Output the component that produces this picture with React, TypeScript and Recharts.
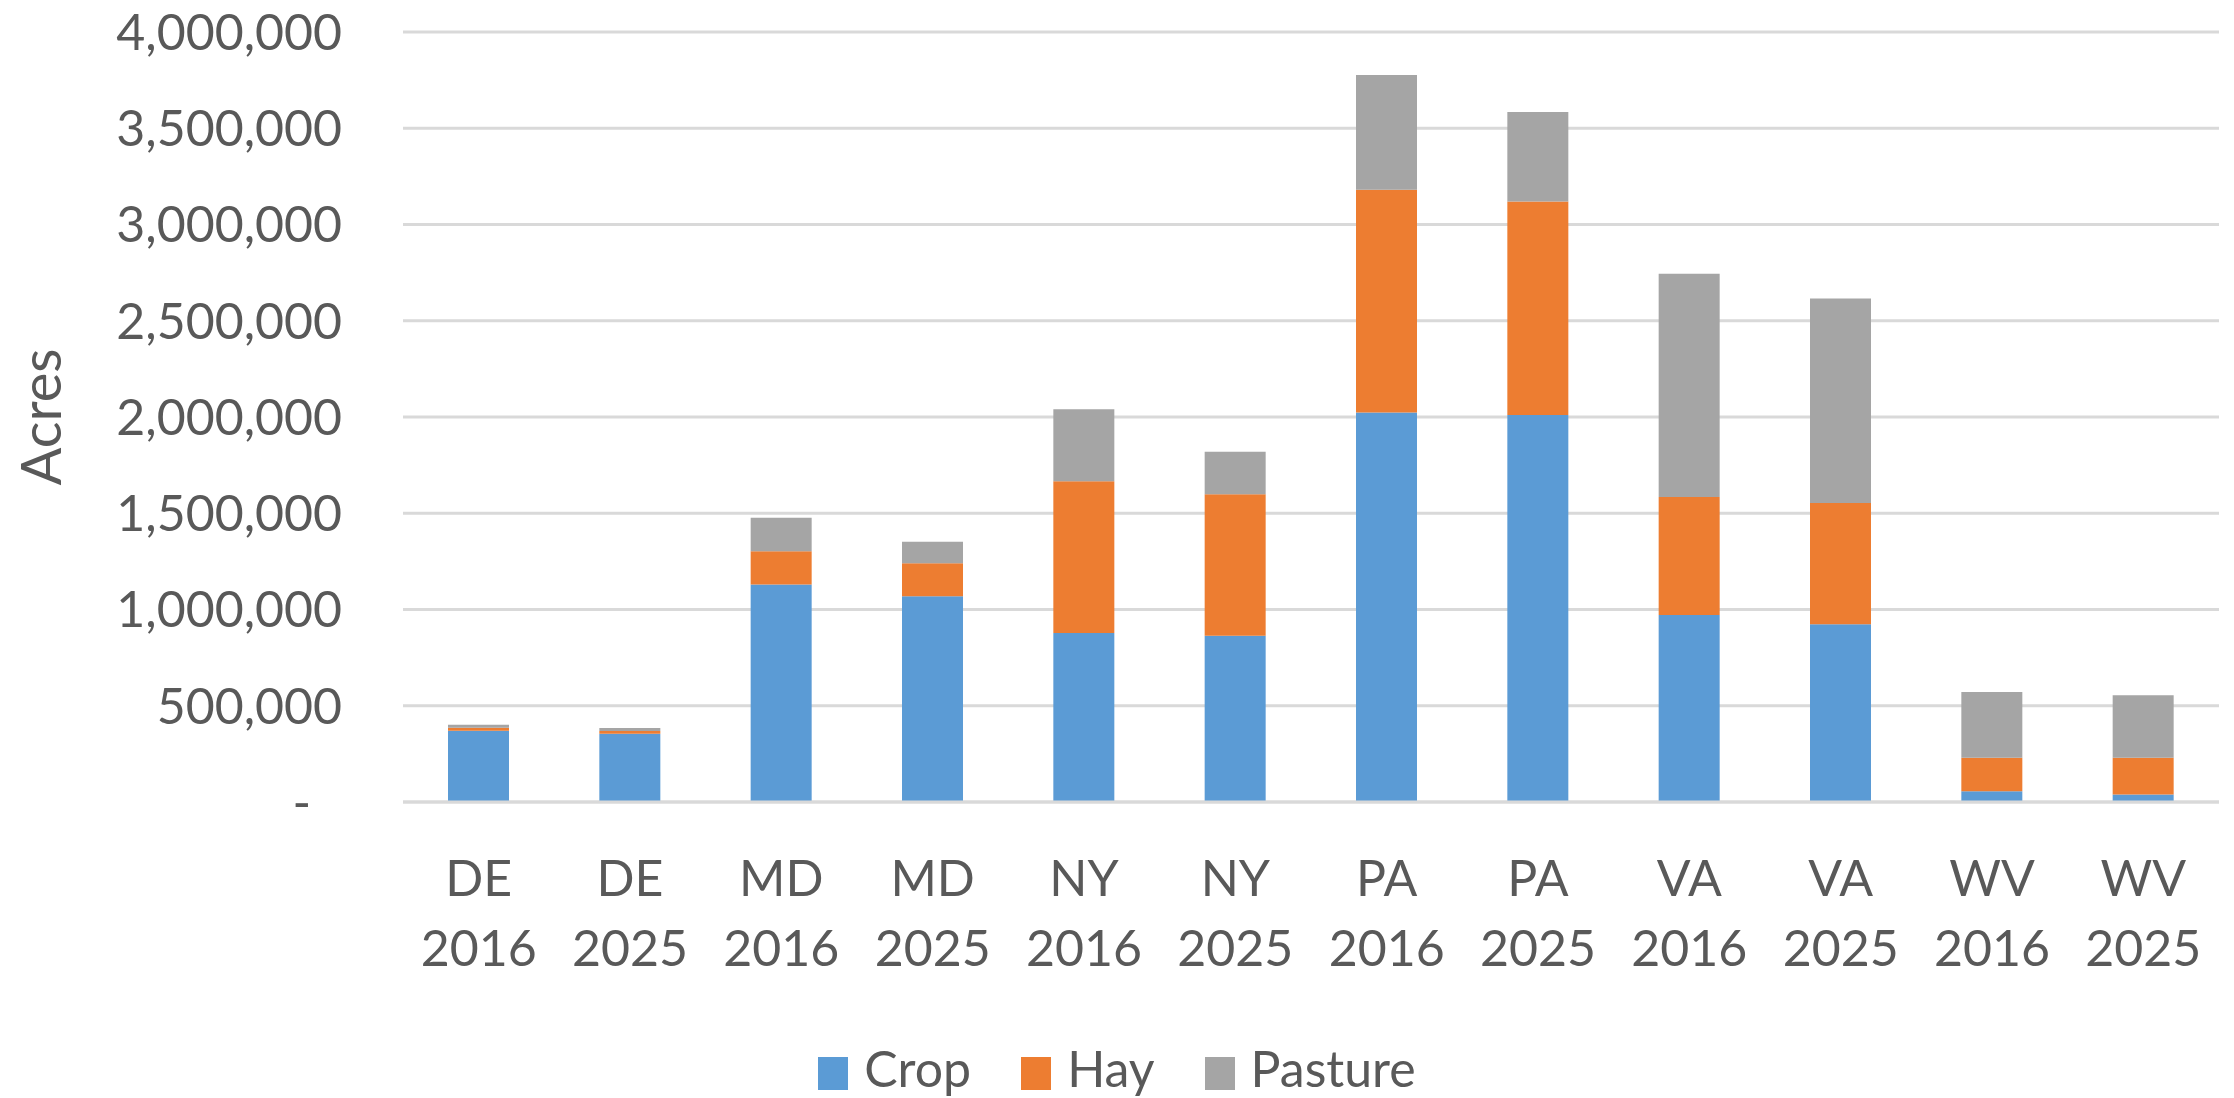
import { BarChart, Bar, XAxis, YAxis, CartesianGrid, Legend } from 'recharts';

const states = ['DE', 'DE', 'MD', 'MD', 'NY', 'NY', 'PA', 'PA', 'VA', 'VA', 'WV', 'WV'];
const years = ['2016', '2025', '2016', '2025', '2016', '2025', '2016', '2025', '2016', '2025', '2016', '2025'];
const crop = [370000, 355000, 1130000, 1069000, 878000, 863000, 2024000, 2010000, 972000, 924000, 56000, 39000];
const hay = [16000, 14000, 172000, 171000, 788000, 736000, 1157000, 1109000, 612000, 629000, 174000, 191000];
const pasture = [15000, 16000, 174000, 112000, 374000, 220000, 595000, 465000, 1160000, 1062000, 341000, 325000];
const yTicks = [0, 500000, 1000000, 1500000, 2000000, 2500000, 3000000, 3500000, 4000000];

const data = states.map((s, i) => ({
  name: `${s} ${years[i]}`,
  Crop: crop[i],
  Hay: hay[i],
  Pasture: pasture[i],
}));

const FONT = "Lato, 'Open Sans', sans-serif";
const FS = 50;
const TEXT = '#595959';
const GRID = '#d9d9d9';

function XTick({ x, y, payload }: any) {
  const [st, yr] = String(payload.value).split(' ');
  return (
    <text x={x} y={y} textAnchor="middle" fill={TEXT} fontSize={FS} fontFamily={FONT}>
      <tspan x={x} dy={94}>{st}</tspan>
      <tspan x={x} dy={70}>{yr}</tspan>
    </text>
  );
}

function YTick({ x, y, payload }: any) {
  const v = payload.value as number;
  const label = v === 0 ? '-' : v.toLocaleString('en-US');
  return (
    <text x={v === 0 ? x - 31 : x} y={y} dy="0.355em" textAnchor="end" fill={TEXT} fontSize={FS} fontFamily={FONT}>
      {label}
    </text>
  );
}

function AcresLabel() {
  return (
    <text x={61} y={417} transform="rotate(-90, 61, 417)" textAnchor="middle" fill={TEXT} fontSize={56} fontFamily={FONT}>
      Acres
    </text>
  );
}

function LegendContent({ payload }: any) {
  return (
    <div style={{ display: 'flex', justifyContent: 'center', alignItems: 'center', height: 60, gap: 50, fontFamily: FONT, fontSize: FS, color: TEXT }}>
      {(payload || []).map((item: any) => (
        <div key={item.value} style={{ display: 'flex', alignItems: 'center' }}>
          <span style={{ display: 'inline-block', width: 30, height: 33, background: item.color, position: 'relative', top: 5 }} />
          <span style={{ marginLeft: 16, lineHeight: 'normal' }}>{item.value}</span>
        </div>
      ))}
    </div>
  );
}

export default function App() {
  return (
    <div style={{ position: 'absolute', left: 0, top: 0, background: '#fff' }}>
      <BarChart width={2234} height={1098} data={data} margin={{ top: 32, right: 15, left: 0, bottom: 0 }}>
        <CartesianGrid vertical={false} stroke={GRID} strokeWidth={3} />
        <XAxis
          dataKey="name"
          height={236}
          tick={<XTick />}
          tickLine={false}
          tickSize={0}
          tickMargin={0}
          axisLine={{ stroke: GRID, strokeWidth: 3 }}
          interval={0}
        />
        <YAxis
          width={403}
          domain={[0, 4000000]}
          ticks={yTicks}
          tick={<YTick />}
          tickLine={false}
          tickSize={0}
          tickMargin={61}
          axisLine={false}
          label={{ content: <AcresLabel /> }}
        />
        <Legend verticalAlign="bottom" content={<LegendContent />} wrapperStyle={{ left: 0, width: 2234, bottom: 0 }} />
        <Bar dataKey="Crop" stackId="a" fill="#5b9bd5" barSize={61} isAnimationActive={false} />
        <Bar dataKey="Hay" stackId="a" fill="#ed7d31" barSize={61} isAnimationActive={false} />
        <Bar dataKey="Pasture" stackId="a" fill="#a5a5a5" barSize={61} isAnimationActive={false} />
      </BarChart>
    </div>
  );
}
